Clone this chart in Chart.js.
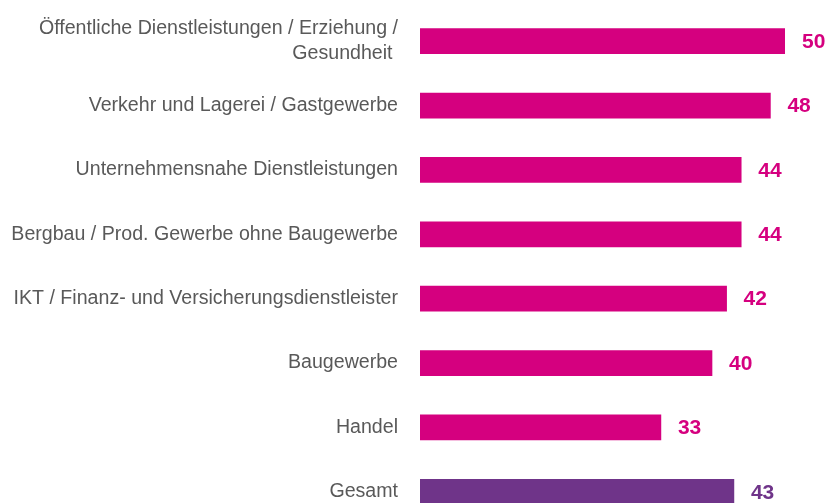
<!DOCTYPE html>
<html>
<head>
<meta charset="utf-8">
<script src="https://cdn.jsdelivr.net/npm/chart.js@4"></script>
<style>
  html, body { margin: 0; padding: 0; background: #fff; overflow: hidden; }
  #wrap { width: 830px; height: 524px; }
</style>
</head>
<body>
<div id="wrap"><canvas id="myBarChart" width="830" height="524"></canvas></div>
<script>
var categories = [
  ["Öffentliche Dienstleistungen / Erziehung /", "Gesundheit "],
  "Verkehr und Lagerei / Gastgewerbe",
  "Unternehmensnahe Dienstleistungen",
  "Bergbau / Prod. Gewerbe ohne Baugewerbe",
  "IKT / Finanz- und Versicherungsdienstleister",
  "Baugewerbe",
  "Handel",
  "Gesamt"
];
var values = [50, 48, 44, 44, 42, 40, 33, 43];
var barColors = ["#d5007f", "#d5007f", "#d5007f", "#d5007f", "#d5007f", "#d5007f", "#d5007f", "#6f3489"];

// draws the numbers right of each bar
var valueLabels = {
  id: "valueLabels",
  afterDatasetsDraw: function (chart) {
    var ctx = chart.ctx;
    var meta = chart.getDatasetMeta(0);
    ctx.save();
    ctx.font = "bold 21px 'Liberation Sans', Arial, sans-serif";
    ctx.textAlign = "left";
    ctx.textBaseline = "middle";
    meta.data.forEach(function (bar, i) {
      ctx.fillStyle = barColors[i];
      ctx.fillText(values[i], bar.x + 17, bar.y + 1);
    });
    ctx.restore();
  }
};

var ctx2 = document.getElementById("myBarChart").getContext("2d");
var myBarChart = new Chart(ctx2, {
  type: "bar",
  data: {
    labels: categories,
    datasets: [
      {
        data: values,
        backgroundColor: barColors,
        borderWidth: 0,
        barThickness: 25
      }
    ]
  },
  options: {
    indexAxis: "y",
    responsive: false,
    animation: false,
    layout: { padding: { top: 9, right: 45, left: 0, bottom: 0 } },
    scales: {
      x: {
        display: false,
        min: 0,
        max: 50
      },
      y: {
        grid: { display: false, drawTicks: false },
        border: { display: false },
        afterFit: function (scale) {
          scale.width = 420;
          scale.paddingTop = 0;
          scale.paddingBottom = 0;
        },
        ticks: {
          padding: 22,
          color: "#595959",
          font: { family: "'Liberation Sans', Arial, sans-serif", size: 19.6, lineHeight: 1.3 }
        }
      }
    },
    plugins: {
      legend: { display: false },
      tooltip: { enabled: false }
    }
  },
  plugins: [valueLabels]
});
</script>
</body>
</html>
